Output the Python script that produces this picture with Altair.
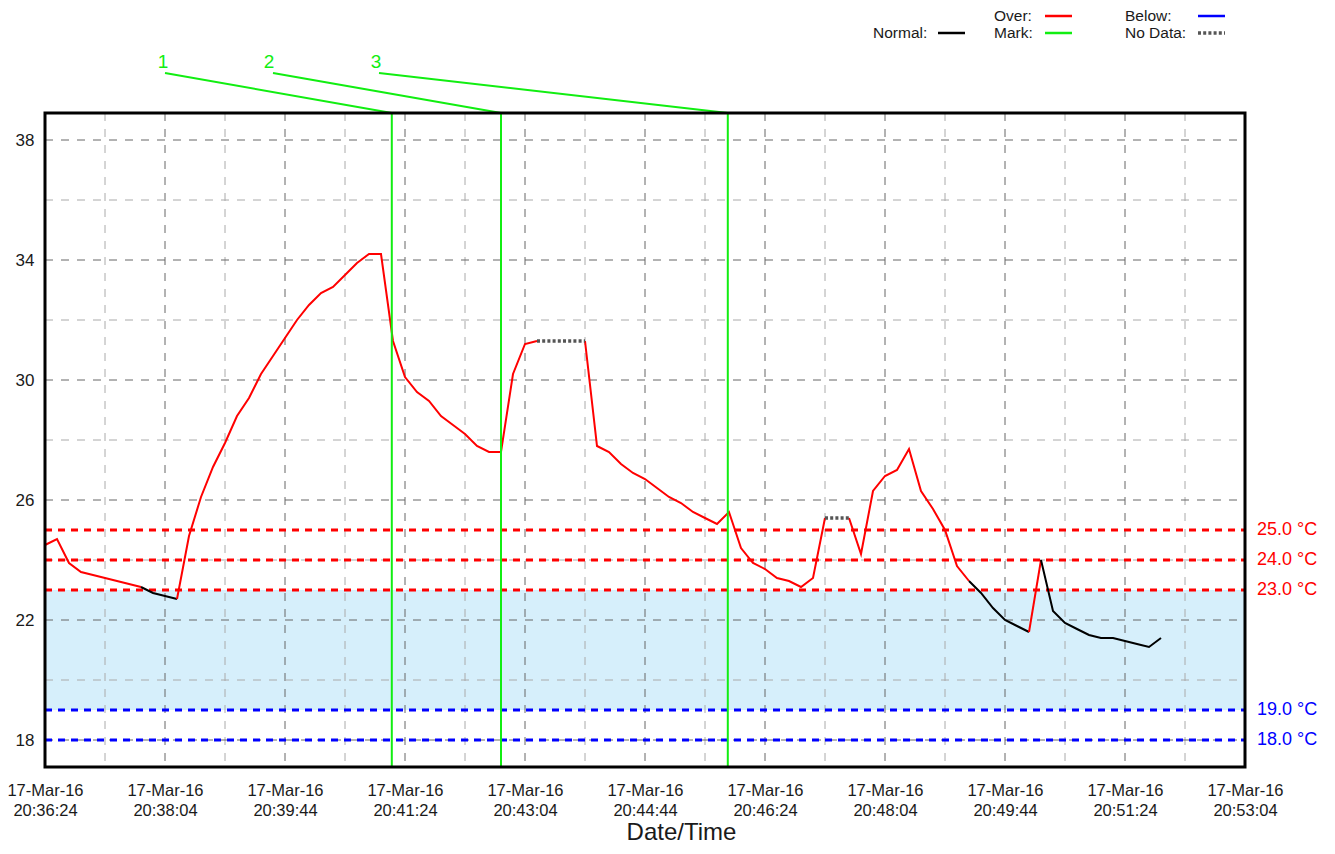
import altair as alt
import pandas as pd

FONT = "Liberation Sans"
W, H = 1200, 654

# ---------------- data ----------------
START = "2016-03-17 20:36:24"
STEP = "10s"
VALUES = [
    24.5, 24.7, 23.9, 23.6, 23.5, 23.4, 23.3, 23.2, 23.1, 22.9,
    22.8, 22.7, 24.8, 26.1, 27.1, 27.9, 28.8, 29.4, 30.2, 30.8,
    31.4, 32.0, 32.5, 32.9, 33.1, 33.5, 33.9, 34.2, 34.2, 31.3,
    30.1, 29.6, 29.3, 28.8, 28.5, 28.2, 27.8, 27.6, 27.6, 30.2,
    31.2, 31.3, None, None, None, 31.3, 27.8, 27.6, 27.2, 26.9,
    26.7, 26.4, 26.1, 25.9, 25.6, 25.4, 25.2, 25.6, 24.4, 23.9,
    23.7, 23.4, 23.3, 23.1, 23.4, 25.4, None, 25.4, 24.2, 26.3,
    26.8, 27.0, 27.7, 26.3, 25.7, 25.0, 23.8, 23.3, 22.9, 22.4,
    22.0, 21.8, 21.6, 24.0, 22.3, 21.9, 21.7, 21.5, 21.4, 21.4,
    21.3, 21.2, 21.1, 21.4,
]
DAY = "2016-03-17"
X_START, X_END = "20:36:24", "20:53:04"
TICK_TIMES = ["20:36:24", "20:38:04", "20:39:44", "20:41:24", "20:43:04", "20:44:44",
              "20:46:24", "20:48:04", "20:49:44", "20:51:24", "20:53:04"]
MINOR_TIMES = ["20:37:14", "20:38:54", "20:40:34", "20:42:14", "20:43:54",
               "20:45:34", "20:47:14", "20:48:54", "20:50:34", "20:52:14"]
Y_DOMAIN = [17.1, 38.9]
Y_TICKS = [18, 22, 26, 30, 34, 38]
Y_MINOR = [20, 24, 28, 32, 36]
OVER_LIMITS = [25.0, 24.0, 23.0]
BELOW_LIMITS = [19.0, 18.0]
MARK_TIMES = ["20:41:13", "20:42:44", "20:45:53"]
MARK_LABELS = ["1", "2", "3"]
LEGEND_LABELS = ["Normal:", "Over:", "Mark:", "Below:", "No Data:"]

# ---------------- style ----------------
RED, BLUE, BLACK, GREEN, NODATA = "#ff0000", "#0000ff", "#000000", "#11ee11", "#555555"
BAND = "#d6effb"
TXT = "#1a1a1a"
GRID_MAJOR, GRID_MINOR = "#666666", "#aaaaaa"
GRID_DASH = [8, 8]
LIMIT_DASH = [7, 6]
MARK_LABEL_X = [118, 224, 331]      # label centres (px, plot coords)
MARK_LEAD_X = [120, 228, 334]       # leader start (px)
LEGEND_COLORS = [BLACK, RED, GREEN, BLUE, NODATA]
LEGEND_POS = [(828, 893, -80), (949, 1000, -97), (949, 1000, -80),
              (1080, 1153, -97), (1080, 1153, -80)]


def dt(hms):
    h, m, s = map(int, hms.split(":"))
    return alt.DateTime(year=2016, month=3, date=17, hours=h, minutes=m, seconds=s)


def iso(hms):
    return f"{DAY}T{hms}"


times = [t.strftime("%Y-%m-%dT%H:%M:%S")
         for t in pd.date_range(START, periods=len(VALUES), freq=STEP)]

# build coloured runs (segment colour = status of its end point)
over_min = min(OVER_LIMITS)
below_max = max(BELOW_LIMITS)
valid = [(i, times[i], v) for i, v in enumerate(VALUES) if v is not None]
rows, run, prev = [], 0, None
for k in range(1, len(valid)):
    (ia, ta, va), (ib, tb, vb) = valid[k - 1], valid[k]
    if ib - ia > 1:
        st = "nodata"
    elif vb > over_min:
        st = "over"
    elif vb < below_max:
        st = "below"
    else:
        st = "normal"
    if st != prev:
        run += 1
        rows.append({"run": run, "status": st, "t": ta, "v": va, "o": 2 * k - 1})
        prev = st
    rows.append({"run": run, "status": st, "t": tb, "v": vb, "o": 2 * k})
seg = pd.DataFrame(rows)

XS = alt.Scale(domain=[dt(X_START), dt(X_END)], nice=False)
YS = alt.Scale(domain=Y_DOMAIN, nice=False, zero=False)

XAXIS = alt.Axis(
    values=[dt(t) for t in TICK_TIMES],
    labelExpr="[timeFormat(datum.value, '%d-%b-%y'), timeFormat(datum.value, '%H:%M:%S')]",
    grid=False, ticks=False, domain=False,
    labelFont=FONT, labelFontSize=16.5, labelColor=TXT, labelPadding=15,
    labelLineHeight=20, labelBaseline="top", labelFlush=False, labelOverlap=False,
    labelBound=False,
    title="Date/Time", titleFont=FONT, titleFontSize=24, titleFontWeight="normal",
    titleColor=TXT, titleX=636, titleY=72, titleBaseline="alphabetic", titleAnchor="middle",
)
YAXIS = alt.Axis(
    values=Y_TICKS, grid=False, ticks=False, domain=False,
    labelFont=FONT, labelFontSize=17, labelColor=TXT, labelPadding=11, title=None,
)


def X(field="t"):
    return alt.X(f"{field}:T", scale=XS, axis=XAXIS)


def Y(field="v"):
    return alt.Y(f"{field}:Q", scale=YS, axis=YAXIS)


one = pd.DataFrame({"a": [0]})
layers = []

# blue normal band
band = pd.DataFrame({"v": [below_max], "v2": [over_min]})
layers.append(alt.Chart(band).mark_rect(color=BAND).encode(
    y=Y(), y2="v2:Q", x=alt.value(0), x2=alt.value(W)))

# grid
for vals, col in [(MINOR_TIMES, GRID_MINOR), (TICK_TIMES[1:-1], GRID_MAJOR)]:
    d = pd.DataFrame({"t": [iso(t) for t in vals]})
    layers.append(alt.Chart(d).mark_rule(color=col, strokeWidth=1, strokeDash=GRID_DASH).encode(
        x=X(), y=alt.value(0), y2=alt.value(H)))
for vals, col in [(Y_MINOR, GRID_MINOR), (Y_TICKS, GRID_MAJOR)]:
    d = pd.DataFrame({"v": vals})
    layers.append(alt.Chart(d).mark_rule(color=col, strokeWidth=1, strokeDash=GRID_DASH).encode(
        y=Y(), x=alt.value(0), x2=alt.value(W)))

# limit lines and labels
lim = pd.DataFrame({
    "v": OVER_LIMITS + BELOW_LIMITS,
    "c": [RED] * len(OVER_LIMITS) + [BLUE] * len(BELOW_LIMITS),
})
lim["lab"] = [f"{v:.1f} °C" for v in lim["v"]]
layers.append(alt.Chart(lim).mark_rule(strokeWidth=3, strokeDash=LIMIT_DASH).encode(
    y=Y(), x=alt.value(0), x2=alt.value(W), color=alt.Color("c:N", scale=None)))
layers.append(alt.Chart(lim).mark_text(font=FONT, fontSize=18, align="left", baseline="middle").encode(
    y=Y(), x=alt.value(W + 12), text="lab:N", color=alt.Color("c:N", scale=None)))

# data line
layers.append(alt.Chart(seg).transform_filter("datum.status != 'nodata'").mark_line(
    strokeWidth=2, strokeJoin="miter").encode(
    x=X(), y=Y(), detail="run:N", order="o:Q",
    color=alt.Color("status:N", scale=alt.Scale(domain=["over", "normal", "below"],
                                                range=[RED, BLACK, BLUE]), legend=None)))
layers.append(alt.Chart(seg).transform_filter("datum.status == 'nodata'").mark_line(
    strokeWidth=3.5, strokeDash=[3, 2.2], color=NODATA).encode(
    x=X(), y=Y(), detail="run:N", order="o:Q"))

# markers
for t, lab, lx, tx in zip(MARK_TIMES, MARK_LABELS, MARK_LEAD_X, MARK_LABEL_X):
    d = pd.DataFrame({"t": [iso(t)]})
    layers.append(alt.Chart(d).mark_rule(color=GREEN, strokeWidth=2).encode(
        x=X(), y=alt.value(0), y2=alt.value(H)))
    layers.append(alt.Chart(d).mark_rule(color=GREEN, strokeWidth=2).encode(
        x=X(), y=alt.value(0), x2=alt.value(lx), y2=alt.value(-40)))
    layers.append(alt.Chart(one).mark_text(font=FONT, fontSize=19, color=GREEN,
                                           align="center", baseline="alphabetic").encode(
        x=alt.value(tx), y=alt.value(-45), text=alt.value(lab)))

# legend
for lab, col, (tx, sx, yy) in zip(LEGEND_LABELS, LEGEND_COLORS, LEGEND_POS):
    layers.append(alt.Chart(one).mark_text(font=FONT, fontSize=15.5, color=TXT,
                                           align="left", baseline="middle").encode(
        x=alt.value(tx), y=alt.value(yy), text=alt.value(lab)))
    if lab == "No Data:":
        mk = alt.Chart(one).mark_rule(color=col, strokeWidth=3.5, strokeDash=[3, 2.2])
    else:
        mk = alt.Chart(one).mark_rule(color=col, strokeWidth=2.5)
    layers.append(mk.encode(x=alt.value(sx), x2=alt.value(sx + 27),
                            y=alt.value(yy), y2=alt.value(yy)))

# frame
layers.append(alt.Chart(one).mark_rect(filled=False, stroke="black", strokeWidth=3).encode(
    x=alt.value(0), x2=alt.value(W), y=alt.value(0), y2=alt.value(H)))

chart = alt.layer(*layers).properties(
    width=W, height=H,
    padding={"left": 37, "top": 105, "right": 82, "bottom": 79},
    autosize=alt.AutoSizeParams(type="none"),
).configure_view(stroke=None)

chart.save("out.html", embed_options={"renderer": "svg", "actions": False})
